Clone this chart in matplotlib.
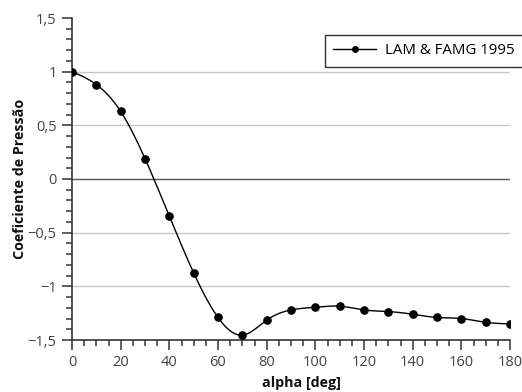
import numpy as np
import matplotlib
matplotlib.use("Agg")
import matplotlib.pyplot as plt
from matplotlib.ticker import MultipleLocator, FuncFormatter
from matplotlib.lines import Line2D

plt.rcParams['font.family'] = ['Open Sans', 'DejaVu Sans']

alpha = [0, 10, 20, 30, 40, 50, 60, 70, 80, 90, 100, 110, 120, 130, 140, 150, 160, 170, 180]
cp = [1.0, 0.88, 0.63, 0.19, -0.345, -0.875, -1.29, -1.455, -1.315, -1.22, -1.195, -1.185,
      -1.22, -1.235, -1.26, -1.29, -1.30, -1.335, -1.35]
series_label = "LAM & FAMG 1995"


def natural_spline(x, y, n=600):
    x = np.asarray(x, float)
    y = np.asarray(y, float)
    h = np.diff(x)
    m = len(x)
    A = np.zeros((m, m))
    b = np.zeros(m)
    A[0, 0] = A[-1, -1] = 1
    for i in range(1, m - 1):
        A[i, i - 1] = h[i - 1]
        A[i, i] = 2 * (h[i - 1] + h[i])
        A[i, i + 1] = h[i]
        b[i] = 6 * ((y[i + 1] - y[i]) / h[i] - (y[i] - y[i - 1]) / h[i - 1])
    M = np.linalg.solve(A, b)
    xs = np.linspace(x[0], x[-1], n)
    idx = np.clip(np.searchsorted(x, xs) - 1, 0, m - 2)
    x0, x1 = x[idx], x[idx + 1]
    hh = x1 - x0
    t0 = x1 - xs
    t1 = xs - x0
    ys = (M[idx] * t0 ** 3 + M[idx + 1] * t1 ** 3) / (6 * hh) \
        + (y[idx] / hh - M[idx] * hh / 6) * t0 + (y[idx + 1] / hh - M[idx + 1] * hh / 6) * t1
    return xs, ys


fig = plt.figure(figsize=(5.22, 3.92), dpi=100)
ax = fig.add_axes([72 / 522, 1 - 340 / 392, 438 / 522, 322 / 392])

for v in [-1, -0.5, 0.5, 1]:
    ax.axhline(v, color='#c8c8c8', lw=1.0, zorder=0)
ax.axhline(0, color='#555555', lw=1.0, zorder=0)

xs, ys = natural_spline(alpha, cp)
ax.plot(xs, ys, color='black', lw=1.0, zorder=2)
ax.plot(alpha, cp, 'o', color='black', ms=5.2, zorder=3)
handle = Line2D([], [], color='black', lw=1.0, marker='o', ms=4.0)

ax.set_xlim(0, 180)
ax.set_ylim(-1.5, 1.5)
ax.xaxis.set_major_locator(MultipleLocator(20))
ax.xaxis.set_minor_locator(MultipleLocator(5))
ax.yaxis.set_major_locator(MultipleLocator(0.5))
ax.yaxis.set_minor_locator(MultipleLocator(0.1))


def fmt(v, pos):
    return ('%g' % round(v, 2)).replace('.', ',').replace('-', '\u2212')


ax.yaxis.set_major_formatter(FuncFormatter(fmt))
ax.xaxis.set_major_formatter(FuncFormatter(fmt))

for s in ['top', 'right']:
    ax.spines[s].set_visible(False)
for s in ['left', 'bottom']:
    ax.spines[s].set_color('#333333')
    ax.spines[s].set_linewidth(1.2)

ax.tick_params(which='major', direction='out', length=7, width=1.1, color='#333333',
               labelcolor='#444444', labelsize=10.5, pad=4)
ax.tick_params(which='minor', direction='out', length=4, width=1.1, color='#333333')

ax.set_xlabel('alpha [deg]', fontsize=10.3, fontweight='bold', color='#111111')
ax.set_ylabel('Coeficiente de Pressão', fontsize=10.3, fontweight='bold', color='#111111')
ax.xaxis.set_label_coords(0.523, -0.113)
ax.yaxis.set_label_coords(-0.103, 0.5)

leg = ax.legend([handle], [series_label], loc='upper right', bbox_to_anchor=(1.03, 0.947),
                borderaxespad=0, frameon=True, fancybox=False, edgecolor='#333333', framealpha=1,
                fontsize=10.8, handlelength=2.9, borderpad=0.55, handletextpad=0.6)
leg.get_frame().set_linewidth(1.0)

fig.savefig('out.png', dpi=100)
